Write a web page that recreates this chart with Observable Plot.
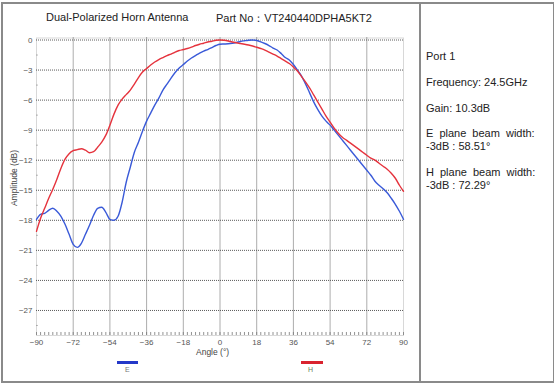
<!DOCTYPE html>
<html>
<head>
<meta charset="utf-8">
<script src="https://cdn.jsdelivr.net/npm/d3@7"></script>
<script src="https://cdn.jsdelivr.net/npm/@observablehq/plot@0.6"></script>
<style>
  html, body { margin: 0; padding: 0; background: #fff; }
  #wrap { position: relative; width: 554px; height: 384px; font-family: "Liberation Sans", Arial, sans-serif; overflow: hidden; }
  #border { position: absolute; left: 1px; top: 2px; width: 550px; height: 377px; border: 2px solid #8a8a8a; box-sizing: content-box; }
  #divider { position: absolute; left: 419px; top: 2px; width: 2px; height: 379px; background: #8a8a8a; }
  #chart { position: absolute; left: 0; top: 0; }
  .t { position: absolute; white-space: nowrap; color: #222; }
  .info { position: absolute; left: 426px; font-size: 11px; color: #222; white-space: nowrap; }
  .sw { position: absolute; height: 3px; }
  .lg { position: absolute; font-size: 7px; color: #777; }
</style>
</head>
<body>
<div id="wrap">
  <div id="chart"></div>
  <div id="border"></div>
  <div id="divider"></div>
  <div class="t" style="left:46px; top:11px; font-size:11px;">Dual-Polarized Horn Antenna</div>
  <div class="t" style="left:216px; top:11px; font-size:11px;">Part No：VT240440DPHA5KT2</div>
  <div class="t" style="left:7px; top:178px; font-size:8.5px; color:#444; transform: translate(0,-50%) rotate(-90deg); transform-origin: center; width:70px; text-align:center; margin-left:-28px;">Amplitude (dB)</div>
  <div class="t" style="left:196px; top:347px; font-size:8.5px; color:#444;">Angle (°)</div>
  <div class="sw" style="left:117px; top:361px; width:21px; background:#2438c8;"></div>
  <div class="lg" style="left:125px; top:366px;">E</div>
  <div class="sw" style="left:301px; top:361px; width:22px; background:#d9232f;"></div>
  <div class="lg" style="left:308px; top:366px; color:#6a7f5a;">H</div>
  <div class="info" style="top:50px;">Port 1</div>
  <div class="info" style="top:76px;">Frequency: 24.5GHz</div>
  <div class="info" style="top:102px;">Gain: 10.3dB</div>
  <div class="info" style="top:127px; word-spacing:3px;">E plane beam width:</div>
  <div class="info" style="top:140px;">-3dB : 58.51°</div>
  <div class="info" style="top:166px; word-spacing:3px;">H plane beam width:</div>
  <div class="info" style="top:179px;">-3dB : 72.29°</div>
</div>
<script>
const angles = [-90,-88,-86,-84,-82,-80,-78,-76,-74,-72,-70,-68,-66,-64,-62,-60,-58,-56,-54,-52,-50,-48,-46,-44,-42,-40,-38,-36,-34,-32,-30,-28,-26,-24,-22,-20,-18,-16,-14,-12,-10,-8,-6,-4,-2,0,2,4,6,8,10,12,14,16,18,20,22,24,26,28,30,32,34,36,38,40,42,44,46,48,50,52,54,56,58,60,62,64,66,68,70,72,74,76,78,80,82,84,86,88,90];

const ePlane = [-17.9,-17.4,-17.3,-17.0,-16.8,-17.1,-17.6,-18.4,-19.4,-20.4,-20.7,-20.3,-19.4,-18.5,-17.5,-16.8,-16.7,-17.2,-17.9,-18.0,-17.6,-16.2,-14.2,-12.7,-11.2,-10.2,-9.1,-8.1,-7.3,-6.5,-5.8,-5.0,-4.4,-3.8,-3.25,-2.8,-2.45,-2.1,-1.8,-1.55,-1.3,-1.1,-0.95,-0.75,-0.55,-0.42,-0.4,-0.38,-0.33,-0.25,-0.15,-0.08,-0.02,0,-0.05,-0.18,-0.35,-0.55,-0.8,-1.0,-1.35,-1.75,-2.0,-2.45,-3.0,-3.6,-4.4,-5.3,-6.2,-6.95,-7.6,-8.1,-8.5,-9.0,-9.5,-10.0,-10.5,-11.0,-11.5,-12.0,-12.5,-13.0,-13.5,-14.1,-14.5,-14.85,-15.25,-15.8,-16.4,-17.1,-17.9];

const hPlane = [-19.1,-17.8,-16.8,-15.8,-14.9,-13.9,-12.8,-11.9,-11.35,-11.05,-10.95,-10.85,-11.0,-11.25,-11.15,-10.7,-10.2,-9.5,-8.5,-7.4,-6.5,-5.9,-5.45,-5.0,-4.4,-3.75,-3.2,-2.85,-2.5,-2.2,-1.95,-1.75,-1.55,-1.4,-1.2,-1.05,-0.95,-0.85,-0.72,-0.55,-0.42,-0.32,-0.2,-0.12,-0.03,0,-0.03,-0.1,-0.2,-0.28,-0.35,-0.42,-0.5,-0.6,-0.72,-0.85,-1.0,-1.2,-1.4,-1.6,-1.85,-2.1,-2.35,-2.7,-3.1,-3.65,-4.2,-4.8,-5.5,-6.2,-6.9,-7.6,-8.2,-8.8,-9.3,-9.7,-10.0,-10.3,-10.6,-10.9,-11.2,-11.5,-11.8,-12.0,-12.3,-12.6,-12.9,-13.3,-13.8,-14.5,-15.1];

const xTicks = [-90,-72,-54,-36,-18,0,18,36,54,72,90];
const yTicks = [0,-3,-6,-9,-12,-15,-18,-21,-24,-27];
const xMinor = d3.range(-90, 91, 2);
const yMinor = [-1.5,-4.5,-7.5,-10.5,-13.5,-16.5,-19.5,-22.5,-25.5,-28.5];

const eData = angles.map((a, i) => ({angle: a, value: ePlane[i]}));
const hData = angles.map((a, i) => ({angle: a, value: hPlane[i]}));

const chart = Plot.plot({
  width: 420,
  height: 384,
  marginLeft: 36,
  marginRight: 17,
  marginTop: 37.5,
  marginBottom: 49,
  style: {fontFamily: "Liberation Sans, Arial, sans-serif", fontSize: "8px", color: "#555", background: "transparent"},
  x: {domain: [-90, 90], ticks: xTicks, tickSize: 0, tickPadding: 4, label: null},
  y: {domain: [-29.5, 0.2], ticks: yTicks, tickSize: 0, tickPadding: 4, label: null},
  marks: [
    Plot.frame({stroke: "#d8d8d8", strokeWidth: 1}),
    Plot.ruleX(xTicks.filter(d => d > -90 && d < 90), {stroke: "#5a5a5a", strokeDasharray: "1,1", strokeWidth: 1}),
    Plot.ruleY(yTicks, {stroke: "#5a5a5a", strokeDasharray: "1,1", strokeWidth: 1}),
    Plot.ruleX(xMinor, {x: d => d, y1: -29.5, y2: -29.2, stroke: "#777", strokeWidth: 0.8}),
    Plot.ruleY(yMinor, {y: d => d, x1: -90, x2: -89.1, stroke: "#999", strokeWidth: 0.8}),
    Plot.line(eData, {x: "angle", y: "value", stroke: "#3a5ad8", strokeWidth: 1.4, curve: "monotone-x"}),
    Plot.line(hData, {x: "angle", y: "value", stroke: "#e5333d", strokeWidth: 1.4, curve: "monotone-x"})
  ]
});
document.getElementById("chart").appendChild(chart);
</script>
</body>
</html>
